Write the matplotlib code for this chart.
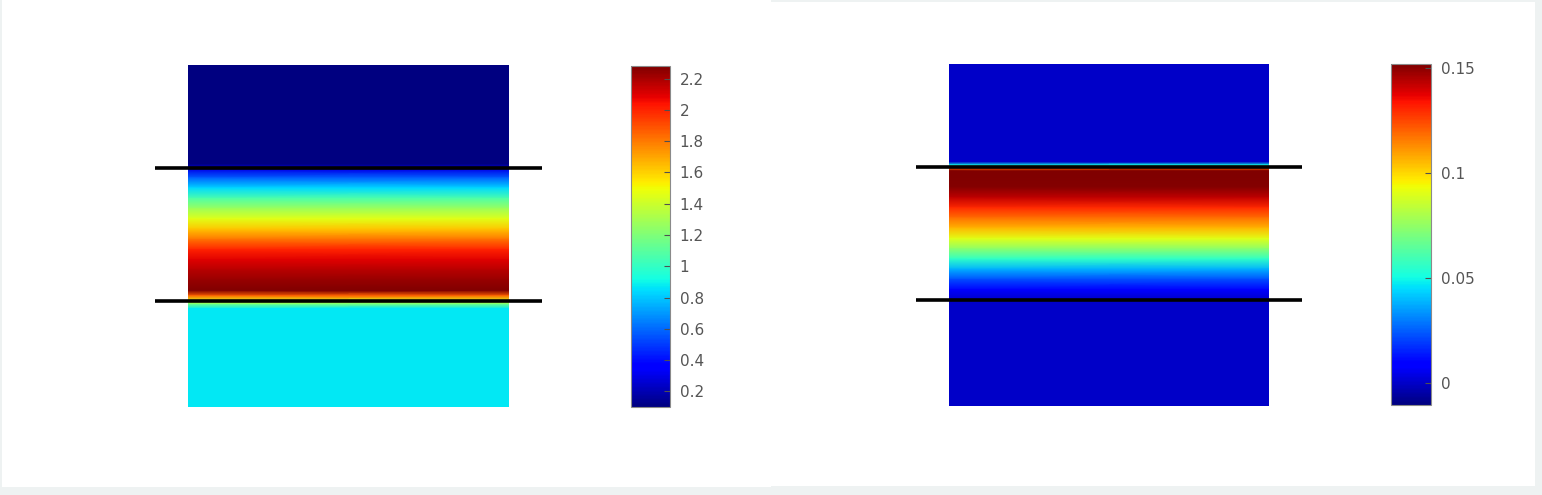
import numpy as np
import matplotlib
matplotlib.use("Agg")
import matplotlib.pyplot as plt
from matplotlib.patches import Rectangle

W, H = 1542, 495

# depth nodes (0 = top of domain, 1 = bottom) and values
z_left = [0.0, 0.29, 0.305, 0.33, 0.36, 0.39, 0.42, 0.45, 0.48, 0.51, 0.54,
          0.57, 0.60, 0.63, 0.66, 0.675, 0.69, 0.70, 0.712, 1.0]
v_left = [0.1, 0.1, 0.30, 0.58, 0.84, 1.07, 1.28, 1.46, 1.63, 1.82, 2.00,
          2.10, 2.17, 2.23, 2.28, 1.85, 1.45, 1.15, 0.87, 0.87]

z_right = [0.0, 0.287, 0.296, 0.303, 0.313, 0.33, 0.36, 0.39, 0.42, 0.45,
           0.48, 0.51, 0.54, 0.57, 0.60, 0.63, 0.66, 0.69, 1.0]
v_right = [0.0, 0.0, 0.05, 0.12, 0.152, 0.152, 0.151, 0.143, 0.130, 0.118,
           0.106, 0.091, 0.074, 0.056, 0.038, 0.022, 0.008, 0.0, 0.0]

# layer interfaces (black lines)
interfaces = [0.30, 0.69]

clim_left = (0.1, 2.28)
clim_right = (-0.0105, 0.152)

ticks_left = [0.2, 0.4, 0.6, 0.8, 1.0, 1.2, 1.4, 1.6, 1.8, 2.0, 2.2]
labels_left = ["0.2", "0.4", "0.6", "0.8", "1", "1.2", "1.4", "1.6", "1.8", "2", "2.2"]
ticks_right = [0.0, 0.05, 0.1, 0.15]
labels_right = ["0", "0.05", "0.1", "0.15"]


def px_axes(fig, x0, y0, x1, y1):
    # pixel box (top-left origin) -> figure axes
    return fig.add_axes([x0 / W, (H - y1) / H, (x1 - x0) / W, (y1 - y0) / H])


def draw_panel(fig, box, cbox, z, v, clim, ticks, labels):
    ax = px_axes(fig, *box)
    zz = np.array(z)
    C = np.tile(np.array(v)[:, None], (1, 2))
    X, Z = np.meshgrid([0.0, 1.0], zz)
    m = ax.pcolormesh(X, Z, C, shading="gouraud", cmap="jet",
                      vmin=clim[0], vmax=clim[1])
    ax.set_xlim(0, 1)
    ax.set_ylim(1, 0)
    ax.axis("off")
    for zi in interfaces:
        ax.plot([-0.103, 1.103], [zi, zi], color="black", lw=2.6,
                clip_on=False, solid_capstyle="butt")

    cax = px_axes(fig, *cbox)
    cb = fig.colorbar(m, cax=cax)
    cb.set_ticks(ticks)
    cb.set_ticklabels(labels)
    cb.outline.set_edgecolor("#8a8a8a")
    cb.outline.set_linewidth(0.8)
    cax.tick_params(direction="in", length=4, width=0.8, color="#505050",
                    labelsize=11, labelcolor="#555555", pad=7)
    return ax


fig = plt.figure(figsize=(W / 100, H / 100), dpi=100, facecolor="#eef2f2")

# the two white figure windows
fig.patches.append(Rectangle((2 / W, (H - 487) / H), 769 / W, 487 / H,
                             transform=fig.transFigure, facecolor="white",
                             edgecolor="none", zorder=-1))
fig.patches.append(Rectangle((771 / W, (H - 486) / H), 764 / W, 484 / H,
                             transform=fig.transFigure, facecolor="white",
                             edgecolor="none", zorder=-1))

draw_panel(fig, (188, 65, 509, 407), (631, 66, 670, 407),
           z_left, v_left, clim_left, ticks_left, labels_left)
draw_panel(fig, (949, 64, 1269, 406), (1391, 64, 1431, 405),
           z_right, v_right, clim_right, ticks_right, labels_right)

fig.savefig("out.png", dpi=100, facecolor=fig.get_facecolor())
